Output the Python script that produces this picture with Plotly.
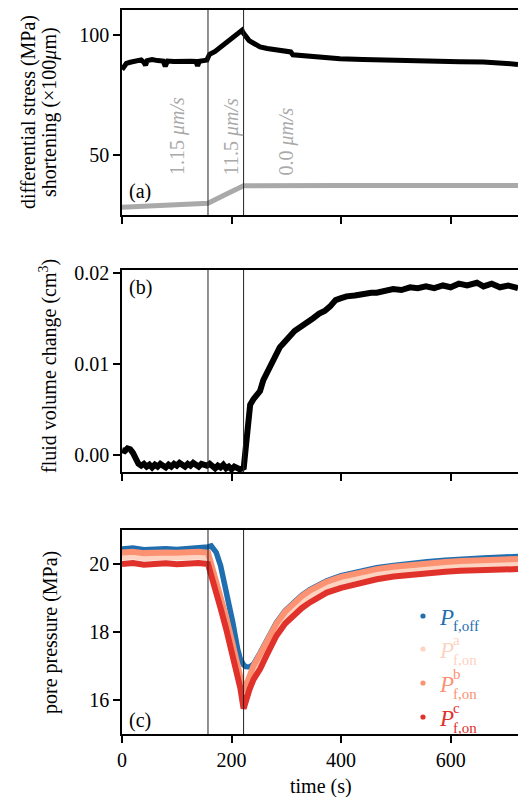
import plotly.graph_objects as go
from plotly.subplots import make_subplots

W, H = 518, 797

# ---------------- data ----------------
# panel (a): differential stress (MPa)
t_stress = [0, 4, 8, 15, 25, 35, 40, 43, 46, 55, 65, 75, 79, 83, 95, 105, 113, 125, 135, 138, 141,
            150, 155, 157, 160, 170, 180, 190, 200, 210, 216, 219, 222, 226, 232, 241, 252, 265,
            280, 300, 308, 312, 340, 370, 398, 440, 483, 540, 580, 617, 660, 690, 702, 723]
stress = [85.5, 86.5, 88.0, 88.5, 89.0, 89.5, 88.5, 87.3, 89.2, 89.6, 89.2, 89.0, 86.8, 89.0, 88.8,
          89.0, 89.0, 88.9, 88.8, 87.0, 88.9, 89.3, 89.4, 90.5, 91.8, 93.0, 94.8, 96.5, 98.2, 99.8,
          101.3, 101.8, 100.5, 99.0, 97.5, 96.3, 94.9, 94.2, 93.7, 93.2, 92.8, 91.6, 91.0, 90.5,
          90.0, 89.6, 89.3, 89.1, 89.0, 88.7, 88.6, 88.5, 88.0, 87.6]
# panel (a): shortening (x100 um)
t_short = [0, 40, 82, 157, 190, 222, 400, 723]
shortening = [28.3, 28.8, 29.3, 30.0, 33.7, 37.2, 37.3, 37.3]

# panel (b): fluid volume change (cm^3)
t_vol = [0, 5, 10, 15, 20, 25, 30, 35, 40, 45, 50, 55, 60, 65, 70, 75, 80, 85, 90, 95, 100, 105,
         110, 115, 120, 125, 130, 135, 140, 145, 150, 155, 160, 165, 170, 175, 180, 185, 190, 195,
         200, 205, 210, 215, 220, 222, 226, 230, 234, 240, 246, 252, 258, 264, 270, 276, 282, 288,
         294, 301, 308, 315, 325, 335, 349, 360, 370, 380, 390, 400, 410, 425, 440, 455, 465, 480,
         495, 510, 526, 540, 555, 570, 586, 600, 615, 630, 648, 660, 675, 690, 705, 723]
volume = [0.0005, 0.0004, 0.0007, 0.0006, 0.0002, -0.0006, -0.0010, -0.0012, -0.0010, -0.0013,
          -0.0011, -0.0014, -0.0011, -0.0013, -0.0010, -0.0012, -0.0014, -0.0011, -0.0013, -0.0010,
          -0.0012, -0.0009, -0.0011, -0.0013, -0.0010, -0.0012, -0.0009, -0.0011, -0.0013, -0.0010,
          -0.0011, -0.0012, -0.0010, -0.0013, -0.0015, -0.0012, -0.0014, -0.0011, -0.0015, -0.0013,
          -0.0016, -0.0013, -0.0015, -0.0016, -0.0015, -0.0016, 0.0008, 0.0035, 0.0055, 0.0061,
          0.0065, 0.0070, 0.0082, 0.0090, 0.0097, 0.0105, 0.0112, 0.0118, 0.0122, 0.0127, 0.0131,
          0.0136, 0.0140, 0.0145, 0.0150, 0.0155, 0.0158, 0.0163, 0.0170, 0.0172, 0.0174, 0.0175,
          0.0177, 0.0178, 0.0178, 0.0180, 0.0182, 0.0181, 0.0184, 0.0183, 0.0185, 0.0183, 0.0186,
          0.0184, 0.0188, 0.0186, 0.0189, 0.0185, 0.0188, 0.0184, 0.0186, 0.0183]

# panel (c): pore pressure (MPa)
t_pore = [0, 20, 40, 60, 80, 100, 120, 140, 157, 163, 172, 180, 190, 202, 211, 216, 222, 226, 233,
          240, 252, 265, 282, 298, 313, 328, 343, 358, 374, 400, 435, 465, 496, 530, 557, 590, 618,
          660, 690, 723]
pf_off = [20.44, 20.47, 20.42, 20.44, 20.45, 20.43, 20.45, 20.46, 20.50, 20.53, 20.34, 19.95, 19.26,
          18.30, 17.50, 17.20, 17.03, 16.98, 16.97, 17.05, 17.38, 17.78, 18.28, 18.63, 18.88, 19.08,
          19.25, 19.39, 19.51, 19.66, 19.80, 19.89, 19.96, 20.03, 20.07, 20.11, 20.15, 20.18, 20.20,
          20.22]
pf_on_a = [20.20, 20.22, 20.18, 20.21, 20.20, 20.19, 20.21, 20.22, 20.18, 19.82, 19.35, 18.90, 18.30,
           17.50, 16.90, 16.50, 16.05, 16.20, 16.55, 16.80, 17.12, 17.55, 18.08, 18.45, 18.68, 18.88,
           19.06, 19.20, 19.33, 19.48, 19.62, 19.72, 19.79, 19.86, 19.90, 19.94, 19.96, 19.99, 20.00,
           20.01]
pf_on_b = [20.34, 20.36, 20.32, 20.35, 20.34, 20.33, 20.35, 20.36, 20.33, 20.00, 19.50, 19.05, 18.45,
           17.65, 17.05, 16.70, 16.25, 16.40, 16.75, 17.00, 17.35, 17.75, 18.25, 18.60, 18.85, 19.05,
           19.22, 19.36, 19.48, 19.62, 19.76, 19.85, 19.92, 19.98, 20.02, 20.06, 20.09, 20.12, 20.14,
           20.15]
pf_on_c = [20.00, 20.03, 19.98, 20.01, 20.02, 19.99, 20.02, 20.03, 20.00, 19.62, 19.15, 18.70, 18.10,
           17.30, 16.72, 16.35, 15.75, 15.98, 16.32, 16.60, 16.91, 17.35, 17.89, 18.25, 18.48, 18.70,
           18.87, 19.02, 19.16, 19.30, 19.45, 19.55, 19.63, 19.69, 19.73, 19.77, 19.80, 19.82, 19.83,
           19.85]

step_times = [157, 222]
speed_labels = ["1.15 <i>μm/s</i>", "11.5 <i>μm/s</i>", "0.0 <i>μm/s</i>"]
speed_x = [100, 200, 300]
x_ticks = [0, 200, 400, 600]

# ---------------- styling ----------------
FONT = "Liberation Serif"
FS = 20
GREY = "#a9a9a9"
C_OFF = "#1f6eb0"
C_A = "#fdd3c1"
C_B = "#fc9272"
C_C = "#e0312b"


def py(ypx):
    return 1 - ypx / H


def px(xpx):
    return xpx / W


fig = make_subplots(rows=3, cols=1)

fig.add_trace(go.Scatter(x=t_stress, y=stress, mode="lines",
                         line=dict(color="black", width=5)), row=1, col=1)
fig.add_trace(go.Scatter(x=t_short, y=shortening, mode="lines",
                         line=dict(color=GREY, width=5)), row=1, col=1)
fig.add_trace(go.Scatter(x=t_vol, y=volume, mode="lines",
                         line=dict(color="black", width=6)), row=2, col=1)
for ser, col, w in [(pf_off, C_OFF, 5.5), (pf_on_a, C_A, 6), (pf_on_b, C_B, 6), (pf_on_c, C_C, 6)]:
    fig.add_trace(go.Scatter(x=t_pore, y=ser, mode="lines",
                             line=dict(color=col, width=w)), row=3, col=1)

xdom = [122 / W, 1.0]
ydoms = [[py(215), py(10)], [py(472), py(270)], [py(734), py(530)]]
yranges = [[25.1, 110.2], [-0.0019, 0.0203], [15.0, 21.0]]
ytickvals = [[50, 100], [0.0, 0.01, 0.02], [16, 18, 20]]
yfmt = ["d", ".2f", "d"]

axis_common = dict(showline=True, linecolor="black", linewidth=1.6, ticks="outside",
                   ticklen=7, tickwidth=1.6, tickcolor="black", showgrid=False, zeroline=False,
                   automargin=False,
                   tickfont=dict(family=FONT, size=FS, color="black"))

for i in range(3):
    xa = "xaxis" if i == 0 else f"xaxis{i + 1}"
    ya = "yaxis" if i == 0 else f"yaxis{i + 1}"
    fig.layout[xa].update(domain=xdom, range=[0, 723], tickvals=x_ticks, mirror=True,
                          showticklabels=(i == 2), **axis_common)
    fig.layout[ya].update(domain=ydoms[i], range=yranges[i], tickvals=ytickvals[i],
                          tickformat=yfmt[i], mirror=False, **axis_common)

shapes = []
for i in range(3):
    xr = "x" if i == 0 else f"x{i + 1}"
    yr = "y domain" if i == 0 else f"y{i + 1} domain"
    for t in step_times:
        shapes.append(dict(type="line", xref=xr, yref=yr, x0=t, x1=t, y0=0, y1=1,
                           line=dict(color="#222222", width=1)))

annotations = []
# speed labels
for s, xv in zip(speed_labels, speed_x):
    annotations.append(dict(x=xv, y=40.8, xref="x", yref="y", text=s, textangle=-90,
                            showarrow=False, xanchor="center", yanchor="bottom",
                            font=dict(family=FONT, size=FS, color=GREY)))
# panel letters
for lab, ycen in [("(a)", 192), ("(b)", 287), ("(c)", 720)]:
    annotations.append(dict(x=px(127), y=py(ycen), xref="paper", yref="paper", text=lab,
                            showarrow=False, xanchor="left", yanchor="middle",
                            font=dict(family=FONT, size=FS, color="black")))
# y titles
ytitles = [("differential stress (MPa)", 28, 112), ("shortening (×100<i>μ</i>m)", 49, 112),
           ("fluid volume change (cm<sup>3</sup>)", 48, 366), ("pore pressure (MPa)", 50, 633)]
for txt, xc, yc in ytitles:
    annotations.append(dict(x=px(xc), y=py(yc), xref="paper", yref="paper", text=txt,
                            textangle=-90, showarrow=False, xanchor="center", yanchor="middle",
                            font=dict(family=FONT, size=FS, color="black")))
# x title
annotations.append(dict(x=px(321), y=py(786), xref="paper", yref="paper", text="time (s)",
                        showarrow=False, xanchor="center", yanchor="middle",
                        font=dict(family=FONT, size=FS, color="black")))

# manual legend (dot + P with stacked super/subscript)
leg = [(C_OFF, 616, "", "f,off"), (C_A, 649, "a", "f,on"), (C_B, 683, "b", "f,on"),
       (C_C, 717, "c", "f,on")]
for col, yd, sup, sub in leg:
    shapes.append(dict(type="circle", xref="paper", yref="paper", xsizemode="pixel",
                       ysizemode="pixel", xanchor=px(423), yanchor=py(yd), x0=-2.6, x1=2.6,
                       y0=-2.6, y1=2.6, fillcolor=col, line=dict(width=0)))
    annotations.append(dict(x=px(438), y=py(yd + 1), xref="paper", yref="paper", text="<i>P</i>",
                            showarrow=False, xanchor="left", yanchor="middle", borderpad=0,
                            font=dict(family=FONT, size=23, color=col)))
    if sup:
        annotations.append(dict(x=px(452), y=py(yd + 1), xref="paper", yref="paper",
                                text=sup + "<br>" + sub, align="left",
                                showarrow=False, xanchor="left", yanchor="middle", borderpad=0,
                                font=dict(family=FONT, size=15, color=col)))
    else:
        annotations.append(dict(x=px(452), y=py(yd + 10), xref="paper", yref="paper", text=sub,
                                showarrow=False, xanchor="left", yanchor="middle", borderpad=0,
                                font=dict(family=FONT, size=15, color=col)))

fig.update_layout(width=W, height=H, margin=dict(l=0, r=0, t=0, b=0, pad=0), showlegend=False,
                  plot_bgcolor="white", paper_bgcolor="white", shapes=shapes,
                  annotations=annotations, font=dict(family=FONT, size=FS))

fig.write_html("out.html", config={"displayModeBar": False},
               post_script="document.body.style.margin='0';document.body.style.overflow='hidden';")
